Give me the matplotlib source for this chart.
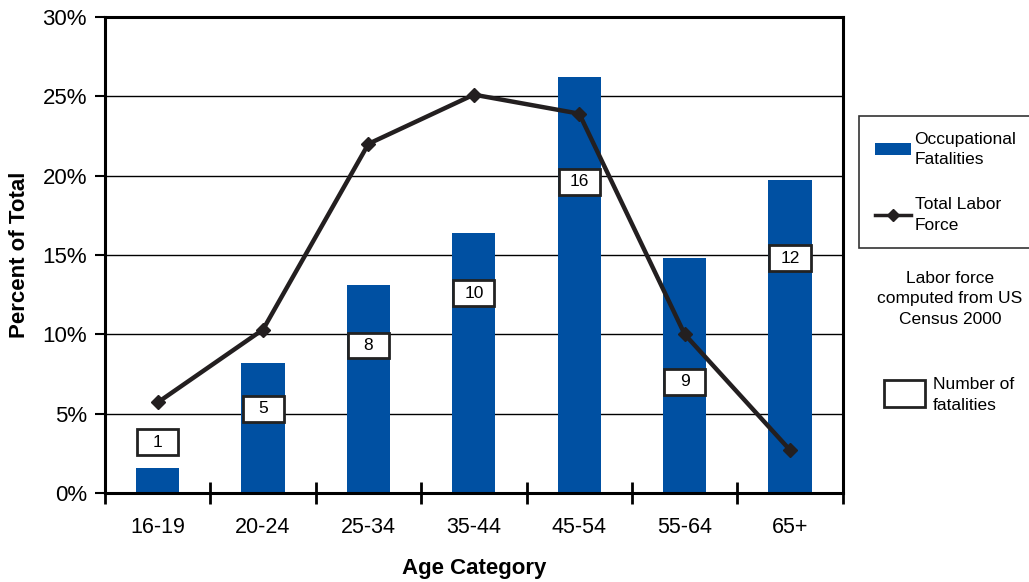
import matplotlib

matplotlib.use("Agg")
import matplotlib.pyplot as plt
from matplotlib.lines import Line2D
from matplotlib.patches import Patch, Rectangle

plt.rcParams["font.family"] = ["Liberation Sans", "DejaVu Sans"]

# Data
age_groups = ["16-19", "20-24", "25-34", "35-44", "45-54", "55-64", "65+"]
fatality_pct = [1.6, 8.2, 13.1, 16.4, 26.2, 14.8, 19.7]
labor_pct = [5.7, 10.3, 22.0, 25.1, 23.9, 10.0, 2.7]
fatality_counts = [1, 5, 8, 10, 16, 9, 12]
count_label_y = [3.2, 5.3, 9.3, 12.6, 19.6, 7.0, 14.8]

BAR_COLOR = "#0050A2"
LINE_COLOR = "#231F20"

fig = plt.figure(figsize=(10.29, 5.82), dpi=100)
ax = fig.add_axes([0.102, 0.153, 0.717, 0.818])

x = list(range(len(age_groups)))
ax.yaxis.grid(True, color="black", linewidth=1.0)
ax.set_axisbelow(True)
ax.bar(x, fatality_pct, width=0.41, color=BAR_COLOR, zorder=2)
ax.plot(x, labor_pct, color=LINE_COLOR, linewidth=3.2, marker="D",
        markersize=7, zorder=3)

# number of fatalities in white boxes (fixed-size boxes)
box_w, box_h = 0.39, 1.6
for xi, n, yl in zip(x, fatality_counts, count_label_y):
    ax.add_patch(Rectangle((xi - box_w / 2, yl - box_h / 2), box_w, box_h,
                           facecolor="white", edgecolor="#222222",
                           linewidth=2.0, zorder=4))
    ax.text(xi, yl, str(n), ha="center", va="center", fontsize=12.5, zorder=5)

ax.set_xlim(-0.5, len(age_groups) - 0.5)
ax.set_ylim(0, 30)
ax.set_yticks(range(0, 31, 5))
ax.set_yticklabels([f"{v}%" for v in range(0, 31, 5)], fontsize=16)
ax.set_xticks(x)
ax.set_xticklabels(age_groups, fontsize=15.5)
ax.tick_params(axis="x", which="major", length=0, pad=17)
ax.set_xticks([i + 0.5 for i in range(-1, len(age_groups))], minor=True)
ax.tick_params(axis="x", which="minor", direction="inout", length=16, width=2)
ax.tick_params(axis="y", direction="out", length=7, width=1.5, pad=6)

for s in ax.spines.values():
    s.set_linewidth(2.2)

ax.set_xlabel("Age Category", fontsize=16, fontweight="bold", labelpad=15)
ax.set_ylabel("Percent of Total", fontsize=16, fontweight="bold", labelpad=9)

handles = [
    Patch(facecolor=BAR_COLOR, edgecolor="none"),
    Line2D([0], [0], color=LINE_COLOR, linewidth=2.5, marker="D", markersize=6),
]
leg = fig.legend(handles, ["Occupational\nFatalities", "Total Labor\nForce"],
                 loc="upper left", bbox_to_anchor=(859 / 1029, 1 - 116 / 582),
                 fontsize=12.5, frameon=True, fancybox=False, edgecolor="black",
                 borderaxespad=0, handlelength=2.1, handletextpad=0.2,
                 labelspacing=1.75, borderpad=0.9)
leg.get_frame().set_linewidth(1.2)
for t in leg.get_texts():
    t.set_linespacing(1.45)

fig.text(950 / 1029, 1 - 299 / 582, "Labor force\ncomputed from US\nCensus 2000",
         ha="center", va="center", fontsize=12.5, linespacing=1.45)

fig.add_artist(Rectangle((884 / 1029, 1 - 407 / 582), 41 / 1029, 27 / 582,
                         transform=fig.transFigure, facecolor="white",
                         edgecolor="#222222", linewidth=2.0))
fig.text(933 / 1029, 1 - 395 / 582, "Number of\nfatalities", ha="left",
         va="center", fontsize=12.5, linespacing=1.45)

fig.savefig("out.png", dpi=100)
